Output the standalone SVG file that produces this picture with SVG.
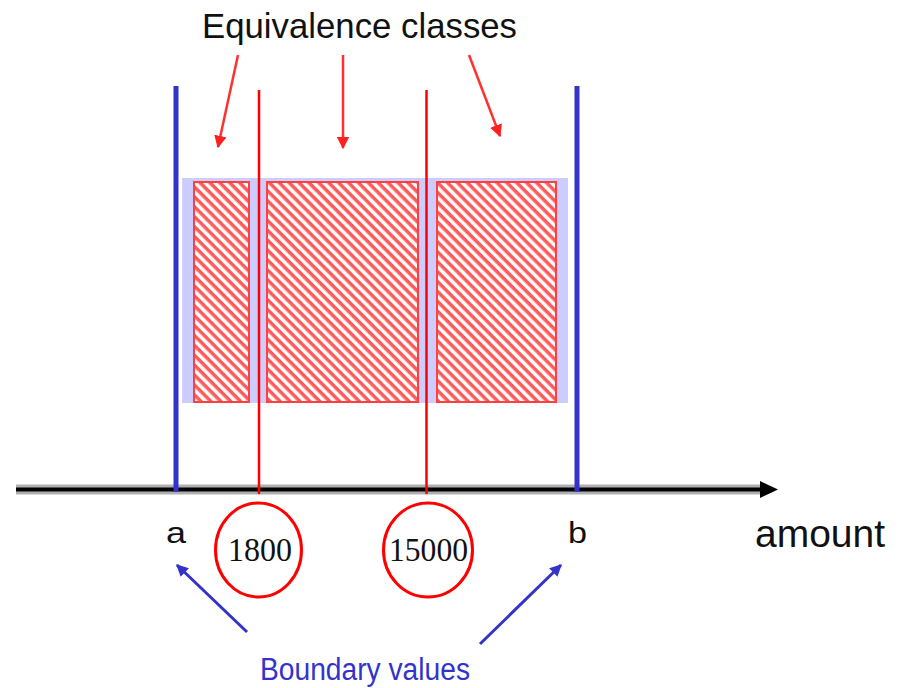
<svg xmlns="http://www.w3.org/2000/svg" width="899" height="688" viewBox="0 0 899 688">
<defs>
<pattern id="hatch" width="7" height="7" patternUnits="userSpaceOnUse" patternTransform="rotate(45)">
<rect width="7" height="7" fill="#ffffff"/>
<rect width="7" height="3.5" fill="#ff5a5a"/>
</pattern>
<marker id="redHead" viewBox="0 0 10 10" refX="9" refY="5" markerWidth="5" markerHeight="5" orient="auto">
<path d="M0,0 L10,5 L0,10 z" fill="#ff2020"/>
</marker>
<marker id="blueHead" viewBox="0 0 10 10" refX="9" refY="5" markerWidth="4" markerHeight="4" orient="auto">
<path d="M0,0 L10,5 L0,10 z" fill="#3333cc"/>
</marker>
</defs>
<style>
.txt{font-family:"Liberation Sans",Arial,sans-serif;fill:#111}
.num{font-family:"Liberation Serif","Times New Roman",serif;fill:#111}
.hatchbox{fill:url(#hatch);stroke:#ff4040;stroke-width:2}
.redline{stroke:#ff0000;stroke-width:2.5}
.blueline{stroke:#3333cc;stroke-width:5}
.redarrow{stroke:#ff3030;stroke-width:2.5;fill:none;marker-end:url(#redHead)}
.bluearrow{stroke:#3333cc;stroke-width:3;fill:none;marker-end:url(#blueHead)}
.circ{fill:none;stroke:#ff0000;stroke-width:3}
</style>
<rect width="899" height="688" fill="#ffffff"/>

<g id="background-band">
<rect x="182" y="178" width="386" height="225" fill="#ccccff"/>
</g>
<g id="class-1"><rect class="hatchbox" x="194" y="182" width="55" height="220"/></g>
<g id="class-2"><rect class="hatchbox" x="267" y="182" width="151" height="220"/></g>
<g id="class-3"><rect class="hatchbox" x="437" y="182" width="119" height="220"/></g>

<g id="axis">
<line x1="16" y1="489.5" x2="762" y2="489.5" stroke="#b0b0b0" stroke-width="10"/>
<line x1="16" y1="489.5" x2="764" y2="489.5" stroke="#000" stroke-width="4"/>
<path d="M760,481 L778,489.5 L760,498 z" fill="#000"/>
</g>

<g id="boundary-a"><line class="blueline" x1="176" y1="86" x2="176" y2="492"/></g>
<g id="boundary-b"><line class="blueline" x1="577" y1="86" x2="577" y2="492"/></g>
<g id="split-1800"><line class="redline" x1="259" y1="90" x2="259" y2="494"/></g>
<g id="split-15000"><line class="redline" x1="426.5" y1="90" x2="426.5" y2="494"/></g>

<g id="title"><text class="txt" x="202" y="38" font-size="35" textLength="315" lengthAdjust="spacingAndGlyphs">Equivalence classes</text></g>

<g id="label-a"><text class="txt" x="166" y="543" font-size="30" textLength="20" lengthAdjust="spacingAndGlyphs">a</text></g>
<g id="label-b"><text class="txt" x="568" y="543" font-size="30" textLength="19" lengthAdjust="spacingAndGlyphs">b</text></g>
<g id="label-amount"><text class="txt" x="755" y="547" font-size="38" textLength="130" lengthAdjust="spacingAndGlyphs">amount</text></g>

<g id="node-1800">
<ellipse class="circ" cx="258.5" cy="550" rx="43" ry="47"/>
<text class="num" x="228" y="561" font-size="34" textLength="64" lengthAdjust="spacingAndGlyphs">1800</text>
</g>
<g id="node-15000">
<ellipse class="circ" cx="428" cy="550" rx="44.5" ry="47"/>
<text class="num" x="389" y="561" font-size="34" textLength="79" lengthAdjust="spacingAndGlyphs">15000</text>
</g>

<g id="label-boundary"><text x="260" y="680" font-family="Liberation Sans,Arial,sans-serif" font-size="31" fill="#3333cc" textLength="210" lengthAdjust="spacingAndGlyphs">Boundary values</text></g>

<g id="connectors">
<line class="redarrow" x1="238" y1="55" x2="218" y2="147"/>
<line class="redarrow" x1="343" y1="55" x2="343" y2="148"/>
<line class="redarrow" x1="469" y1="55" x2="500" y2="136"/>
<line class="bluearrow" x1="247" y1="632" x2="177" y2="565"/>
<line class="bluearrow" x1="480" y1="644" x2="561" y2="565"/>
</g>
</svg>
